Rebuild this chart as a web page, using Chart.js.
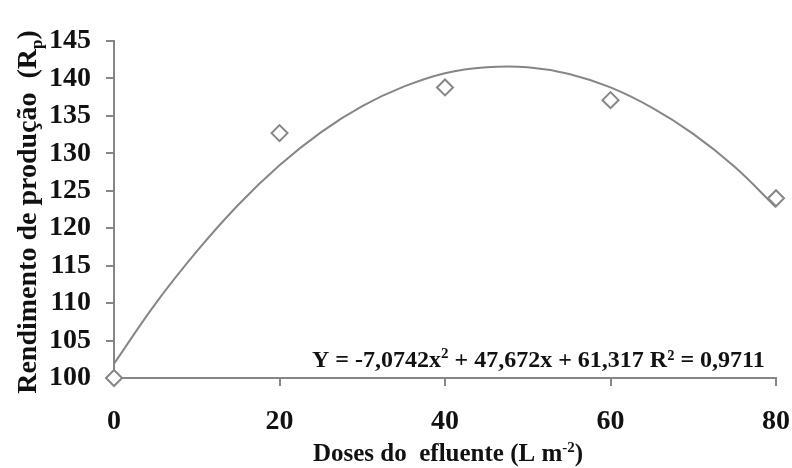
<!DOCTYPE html>
<html>
<head>
<meta charset="utf-8">
<script src="https://cdn.jsdelivr.net/npm/chart.js@4.4.1/dist/chart.umd.min.js"></script>
<style>
    html, body { margin: 0; padding: 0; background: #fff; }
    #wrap { width: 792px; height: 468px; }
</style>
</head>
<body>
<div id="wrap"><canvas id="chart" width="792" height="468"></canvas></div>
<script>
    // observed values
    const doses = [0, 20, 40, 60, 80];
    const rendimento = [100, 132.7, 138.8, 137.1, 124.0];

    // fitted curve
    const curveX = [0, 5, 10, 15, 20, 25, 30, 35, 40, 45, 50, 55, 60, 65, 70, 75, 80];
    const curveY = [101.9, 109.9, 116.9, 123.1, 128.4, 132.8, 136.3, 138.9, 140.7, 141.5, 141.5, 140.6, 138.8, 136.1, 132.6, 128.2, 122.8];

    const xTicks = [0, 20, 40, 60, 80];
    const yTicks = [100, 105, 110, 115, 120, 125, 130, 135, 140, 145];

    const SERIF = '"Liberation Serif", "Times New Roman", serif';
    const GREY = '#868686';
    const INK = '#111';

    // draws a run of text pieces (normal / sub / sup) starting at x
    function drawRich(ctx, parts, x, y, align) {
        let total = 0;
        parts.forEach(p => {
            ctx.font = 'bold ' + p.size + 'px ' + SERIF;
            p.w = ctx.measureText(p.t).width;
            total += p.w;
        });
        let cx = align === 'center' ? x - total / 2 : x;
        parts.forEach(p => {
            ctx.font = 'bold ' + p.size + 'px ' + SERIF;
            ctx.fillText(p.t, cx, y + (p.dy || 0));
            cx += p.w;
        });
    }

    const labelsPlugin = {
        id: 'labels',
        afterDraw(chart) {
            const ctx = chart.ctx;
            ctx.save();
            ctx.fillStyle = INK;
            ctx.textAlign = 'left';
            ctx.textBaseline = 'alphabetic';

            // equation
            drawRich(ctx, [
                { t: 'Y = -7,0742x', size: 24 },
                { t: '2', size: 15, dy: -9 },
                { t: ' + 47,672x + 61,317 R', size: 24 },
                { t: '\u00b2', size: 24 },
                { t: ' = 0,9711', size: 24 }
            ], 312, 367, 'left');

            // x title
            drawRich(ctx, [
                { t: 'Doses do  efluente (L m', size: 25 },
                { t: '-2', size: 15, dy: -9 },
                { t: ')', size: 25 }
            ], 448, 461, 'center');

            // y title
            ctx.translate(36, 212);
            ctx.rotate(-Math.PI / 2);
            drawRich(ctx, [
                { t: 'Rendimento de produção  (R', size: 28 },
                { t: 'p', size: 17, dy: 6 },
                { t: ')', size: 28 }
            ], 0, 0, 'center');
            ctx.restore();
        }
    };

    new Chart(document.getElementById('chart'), {
        type: 'scatter',
        data: {
            datasets: [
                {
                    label: 'Rendimento',
                    data: doses.map((d, i) => ({ x: d, y: rendimento[i] })),
                    pointStyle: 'rectRot',
                    pointRadius: 8,
                    pointBorderWidth: 2,
                    pointBorderColor: GREY,
                    pointBackgroundColor: '#fff',
                    clip: false,
                    order: 0
                },
                {
                    label: 'Ajuste',
                    data: curveX.map((d, i) => ({ x: d, y: curveY[i] })),
                    showLine: true,
                    borderColor: GREY,
                    borderWidth: 2,
                    pointRadius: 0,
                    tension: 0.4,
                    clip: false,
                    order: 1
                }
            ]
        },
        options: {
            responsive: false,
            animation: false,
            layout: { padding: { top: 41, right: 16, bottom: 0, left: 0 } },
            plugins: {
                legend: { display: false },
                tooltip: { enabled: false }
            },
            scales: {
                x: {
                    type: 'linear',
                    min: 0,
                    max: 80,
                    afterBuildTicks: s => { s.ticks = xTicks.map(v => ({ value: v })); },
                    afterFit: s => { s.height = 90; s.paddingLeft = 0; s.paddingRight = 0; },
                    grid: { drawOnChartArea: false, tickLength: 8, color: GREY, lineWidth: 2 },
                    border: { color: GREY, width: 2 },
                    ticks: { color: INK, padding: 19, font: { family: SERIF, size: 28, weight: 'bold' } }
                },
                y: {
                    min: 100,
                    max: 145,
                    afterBuildTicks: s => { s.ticks = yTicks.map(v => ({ value: v })); },
                    afterFit: s => { s.width = 114; s.paddingTop = 0; s.paddingBottom = 0; },
                    grid: { drawOnChartArea: false, tickLength: 8, color: GREY, lineWidth: 2 },
                    border: { color: GREY, width: 2 },
                    ticks: { color: INK, padding: 15, font: { family: SERIF, size: 28, weight: 'bold' } }
                }
            }
        },
        plugins: [labelsPlugin]
    });
</script>
</body>
</html>
